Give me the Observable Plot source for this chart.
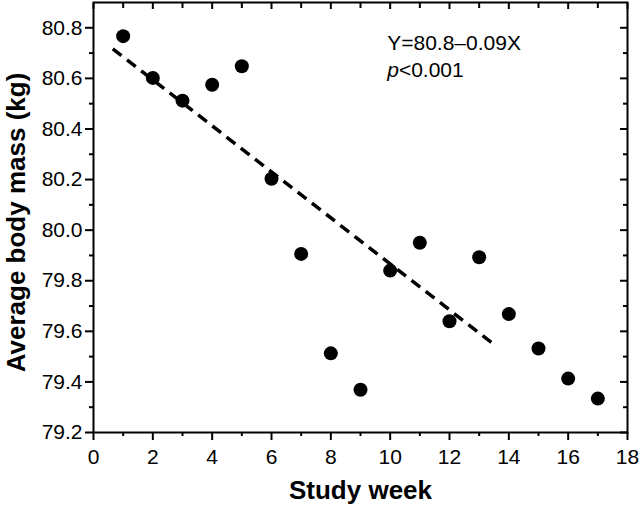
<!DOCTYPE html>
<html>
<head>
<meta charset="utf-8">
<script src="https://cdn.jsdelivr.net/npm/d3@7"></script>
<script src="https://cdn.jsdelivr.net/npm/@observablehq/plot@0.6"></script>
<style>
  html, body { margin: 0; padding: 0; background: #fff; }
  svg { display: block; }
</style>
</head>
<body>
<div id="chart"></div>
<script>
// ---- data ----
const weeks = [1, 2, 3, 4, 5, 6, 7, 8, 9, 10, 11, 12, 13, 14, 15, 16, 17];
const bodyMass = [80.767, 80.602, 80.512, 80.575, 80.648, 80.203, 79.906, 79.513, 79.369,
                  79.840, 79.950, 79.640, 79.893, 79.668, 79.532, 79.413, 79.334];

// fitted regression line, endpoints as drawn
const fitWeeks = [0.65, 13.58];
const fitMass = [80.717, 79.541];

// tick values
const xMajorTicks = [0, 2, 4, 6, 8, 10, 12, 14, 16, 18];
const xMinorTicks = [1, 3, 5, 7, 9, 11, 13, 15, 17];
const yMajorTicks = [79.2, 79.4, 79.6, 79.8, 80.0, 80.2, 80.4, 80.6, 80.8];
const yMinorTicks = [79.3, 79.5, 79.7, 79.9, 80.1, 80.3, 80.5, 80.7];

// labels
const xTitle = "Study week";
const yTitle = "Average body mass (kg)";
const annotationLines = ["Y=80.8\u20130.09X", "p<0.001"];
const annotationX = [9.9, 9.9];
const annotationY = [80.713, 80.607];

// ---- build tables ----
const points = weeks.map((w, i) => ({week: w, mass: bodyMass[i]}));
const fit = fitWeeks.map((w, i) => ({week: w, mass: fitMass[i]}));
const annotations = annotationLines.map((t, i) => ({text: t, x: annotationX[i], y: annotationY[i]}));

const font = "'Liberation Sans', Arial, Helvetica, sans-serif";
const blank = () => "";

const chart = Plot.plot({
  width: 639,
  height: 506,
  marginLeft: 93,
  marginRight: 12,
  marginTop: 2,
  marginBottom: 74,
  style: {fontFamily: font, fontSize: "21px", color: "#000", background: "#fff", overflow: "visible"},
  x: {domain: [0, 18], axis: null},
  y: {domain: [79.2, 80.9], axis: null},
  marks: [
    // bottom axis
    Plot.axisX(xMajorTicks, {anchor: "bottom", tickSize: 8, tickPadding: 9, strokeWidth: 2, label: null, fontSize: 21}),
    Plot.axisX(xMinorTicks, {anchor: "bottom", tickSize: 4, strokeWidth: 2, tickFormat: blank, label: null}),
    // top ticks (inward)
    Plot.axisX(xMajorTicks, {anchor: "top", tickSize: 6, insetTop: 6, strokeWidth: 2, tickFormat: blank, label: null}),
    Plot.axisX(xMinorTicks, {anchor: "top", tickSize: 5, insetTop: 5, strokeWidth: 2, tickFormat: blank, label: null}),
    // left axis
    Plot.axisY(yMajorTicks, {anchor: "left", tickSize: 8, tickPadding: 3, strokeWidth: 2, tickFormat: d3.format(".1f"), label: null, fontSize: 21}),
    Plot.axisY(yMinorTicks, {anchor: "left", tickSize: 4, strokeWidth: 2, tickFormat: blank, label: null}),
    // right ticks (inward)
    Plot.axisY(yMajorTicks, {anchor: "right", tickSize: 8, insetRight: 8, strokeWidth: 2, tickFormat: blank, label: null}),
    Plot.axisY(yMinorTicks, {anchor: "right", tickSize: 5, insetRight: 5, strokeWidth: 2, tickFormat: blank, label: null}),
    Plot.frame({strokeWidth: 2}),
    // regression line
    Plot.line(fit, {x: "week", y: "mass", stroke: "#000", strokeWidth: 3.5, strokeDasharray: "11,7", strokeLinecap: "butt"}),
    // points
    Plot.dot(points, {x: "week", y: "mass", r: 7, fill: "#000", stroke: "none"}),
    // annotation
    Plot.text(annotations, {x: "x", y: "y", text: "text", textAnchor: "start", lineAnchor: "bottom", fontSize: 21, fill: "#000"}),
    // axis titles
    Plot.text([xTitle], {text: d => d, frameAnchor: "bottom", textAnchor: "middle", dy: 66, lineAnchor: "bottom", fontSize: 26, fontWeight: "bold", fill: "#000"}),
    Plot.text([yTitle], {text: d => d, frameAnchor: "left", textAnchor: "middle", rotate: -90, dx: -69, dy: 5, lineAnchor: "bottom", fontSize: 26, fontWeight: "bold", fill: "#000"})
  ]
});

// italic "p" in the annotation
chart.querySelectorAll("text").forEach(t => {
  if (t.textContent === "p<0.001") {
    t.textContent = "";
    const ns = "http://www.w3.org/2000/svg";
    const a = document.createElementNS(ns, "tspan");
    a.setAttribute("font-style", "italic");
    a.textContent = "p";
    const b = document.createElementNS(ns, "tspan");
    b.textContent = "<0.001";
    t.appendChild(a);
    t.appendChild(b);
  }
});

document.getElementById("chart").appendChild(chart);
</script>
</body>
</html>
